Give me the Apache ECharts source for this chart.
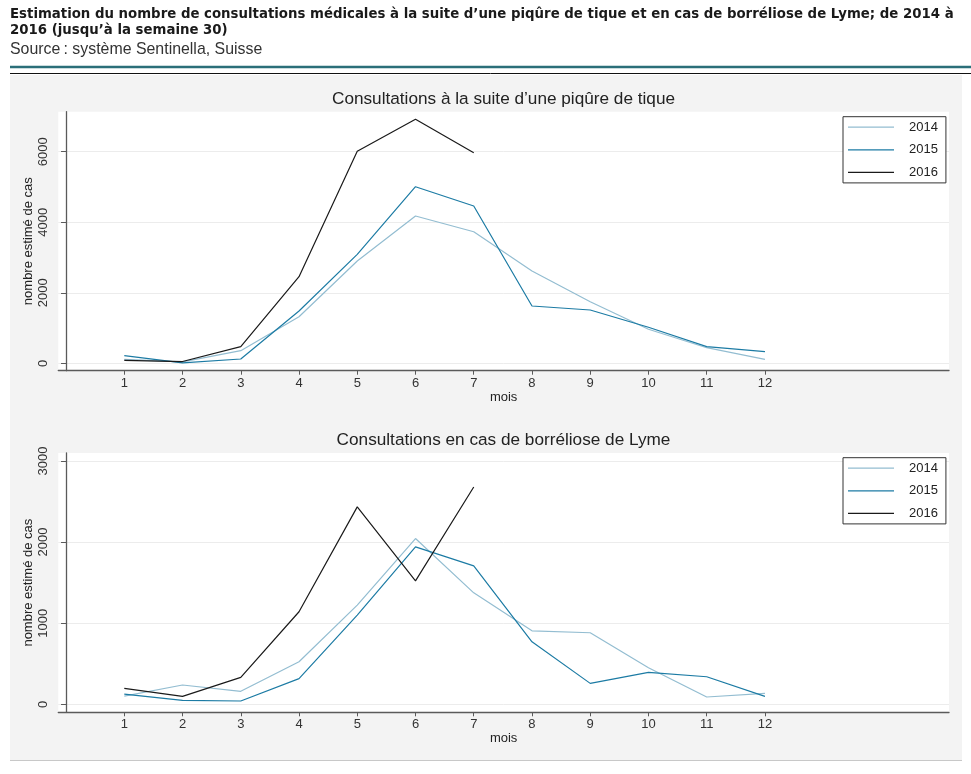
<!DOCTYPE html>
<html>
<head>
<meta charset="utf-8">
<script src="https://cdn.jsdelivr.net/npm/echarts@6/dist/echarts.min.js"></script>
<style>
html,body{margin:0;padding:0;background:#fff;}
#chart{width:971px;height:774px;}
</style>
</head>
<body>
<div id="chart"></div>
<script>
// ---- data ----
const months = [1, 2, 3, 4, 5, 6, 7, 8, 9, 10, 11, 12];
const years = ['2014', '2015', '2016'];
const tique2014 = [110, 40, 357, 1321, 2900, 4176, 3731, 2617, 1747, 964, 442, 113];
const tique2015 = [215, 10, 122, 1483, 3090, 5007, 4460, 1625, 1511, 1021, 471, 329];
const tique2016 = [80, 50, 471, 2455, 6010, 6918, 5970];
const lyme2014 = [100, 238, 160, 525, 1223, 2044, 1374, 906, 882, 450, 90, 135];
const lyme2015 = [125, 49, 41, 316, 1100, 1941, 1707, 771, 258, 394, 340, 98];
const lyme2016 = [197, 98, 332, 1141, 2434, 1522, 2680];
const tiqueTicks = [0, 2000, 4000, 6000];
const lymeTicks = [0, 1000, 2000, 3000];

const mainTitle = 'Estimation du nombre de consultations médicales à la suite d\u2019une piqûre de tique et en cas de borréliose de Lyme; de 2014 à\n2016 (jusqu\u2019à la semaine 30)';
const sourceText = 'Source\u202F: système Sentinella, Suisse';
const title1 = 'Consultations à la suite d\u2019une piqûre de tique';
const title2 = 'Consultations en cas de borréliose de Lyme';
const xName = 'mois';
const yName = 'nombre estimé de cas';

const colors = {'2014': '#93bdd1', '2015': '#1c7ba4', '2016': '#1a1a1a'};
const FONT = '"Liberation Sans", Arial, sans-serif';

function pairs(vals) { return vals.map((v, i) => [months[i], v]); }

function xAxisFor(gi) {
  return {
    gridIndex: gi, type: 'value', min: -0.133, max: 15.16,
    name: xName, nameLocation: 'middle', nameGap: 20, nameMoveOverlap: false,
    nameTextStyle: {fontFamily: FONT, fontSize: 13, color: '#222'},
    axisLine: {show: true, onZero: false, lineStyle: {color: '#5a5a5a', width: 1.3}},
    axisTick: {show: true, customValues: months, length: 4, lineStyle: {color: '#5a5a5a'}},
    axisLabel: {customValues: months, margin: 6, fontFamily: FONT, fontSize: 13, color: '#333', formatter: v => String(v)},
    splitLine: {show: false}
  };
}
function yAxisFor(gi, min, max, ticks) {
  return {
    gridIndex: gi, type: 'value', min: min, max: max,
    name: yName, nameLocation: 'middle', nameGap: 23, nameMoveOverlap: false,
    nameTextStyle: {fontFamily: FONT, fontSize: 13, color: '#222'},
    axisLine: {show: true, lineStyle: {color: '#5a5a5a', width: 1.3}},
    axisTick: {show: true, customValues: ticks, length: 5, lineStyle: {color: '#5a5a5a'}},
    axisLabel: {customValues: ticks, rotate: 90, margin: 8, fontFamily: FONT, fontSize: 13, color: '#333', formatter: v => String(v)},
    splitLine: {show: true, lineStyle: {color: '#ececec', width: 1}}
  };
}
const legendIcon = 'path://M0,0L46,0L46,1.3L0,1.3Z';
function legendFor(top) {
  return {
    orient: 'vertical', left: 843, top: top,
    data: years.map(y => ({name: y, icon: legendIcon})),
    itemWidth: 46, itemHeight: 14, itemGap: 9.6,
    padding: [4, 8, 4, 5],
    backgroundColor: '#fff', borderColor: '#333', borderWidth: 1, borderRadius: 0,
    textStyle: {fontFamily: FONT, fontSize: 13, color: '#222', padding: [0, 0, 0, 10]},
    selectedMode: false
  };
}
function line(name, xi, vals) {
  return {
    name: name, type: 'line', xAxisIndex: xi, yAxisIndex: xi,
    data: pairs(vals), symbol: 'none', showSymbol: false, animation: false,
    lineStyle: {color: colors[name], width: 1.2}, itemStyle: {color: colors[name]}
  };
}

const chart = echarts.init(document.getElementById('chart'), null, {renderer: 'canvas'});
chart.setOption({
  backgroundColor: '#fff',
  animation: false,
  title: [
    {text: mainTitle, left: 10, top: 6.5, padding: 0,
     textStyle: {fontFamily: '"DejaVu Sans Condensed", "Liberation Sans Narrow", Arial', fontWeight: 'bold', fontSize: 14.8, lineHeight: 16, color: '#1a1a1a'}},
    {text: sourceText, left: 10, top: 41, padding: 0,
     textStyle: {fontFamily: FONT, fontWeight: 'normal', fontSize: 15.9, lineHeight: 17, color: '#333'}},
    {text: title1, left: 503.5, textAlign: 'center', top: 89, padding: 0,
     textStyle: {fontFamily: FONT, fontWeight: 'normal', fontSize: 17.2, lineHeight: 20, color: '#222'}},
    {text: title2, left: 503.5, textAlign: 'center', top: 430, padding: 0,
     textStyle: {fontFamily: FONT, fontWeight: 'normal', fontSize: 17.2, lineHeight: 20, color: '#222'}}
  ],
  graphic: [
    {type: 'rect', shape: {x: 10, y: 75, width: 952, height: 685}, style: {fill: '#f3f3f3'}, z: -10, silent: true},
    {type: 'line', shape: {x1: 10, y1: 67, x2: 971, y2: 67}, style: {stroke: '#2b6f79', lineWidth: 2.5}, silent: true},
    {type: 'line', shape: {x1: 10, y1: 73.5, x2: 971, y2: 73.5}, style: {stroke: '#111', lineWidth: 1}, silent: true},
    {type: 'line', shape: {x1: 10, y1: 760.5, x2: 962, y2: 760.5}, style: {stroke: '#c8c8c8', lineWidth: 1}, silent: true}
  ],
  grid: [
    {left: 58.3, right: 22, top: 111.7, height: 259, show: true, backgroundColor: '#fff', borderWidth: 0, containLabel: false},
    {left: 58.3, right: 22, top: 453, height: 259.3, show: true, backgroundColor: '#fff', borderWidth: 0, containLabel: false}
  ],
  xAxis: [xAxisFor(0), xAxisFor(1)],
  yAxis: [yAxisFor(0, -210, 7134, tiqueTicks), yAxisFor(1, -98.6, 3098.6, lymeTicks)],
  legend: [legendFor(116.7), legendFor(457.7)],
  series: [
    line('2014', 0, tique2014), line('2015', 0, tique2015), line('2016', 0, tique2016),
    line('2014', 1, lyme2014), line('2015', 1, lyme2015), line('2016', 1, lyme2016)
  ]
});
</script>
</body>
</html>
